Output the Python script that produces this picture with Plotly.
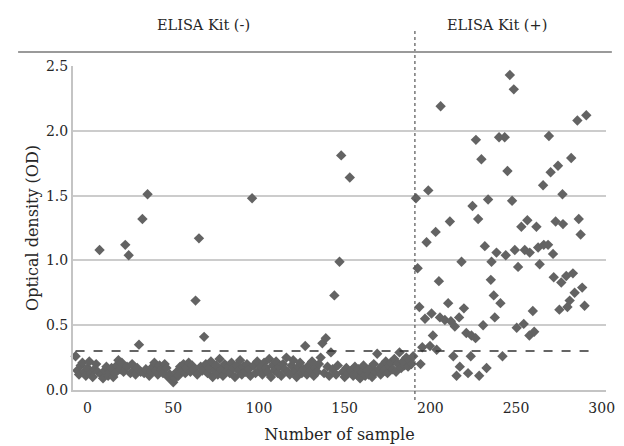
import plotly.graph_objects as go

# ELISA Kit (-) group: sample numbers and optical density
neg_start = -7
neg_od = [
    0.26, 0.15, 0.12, 0.19, 0.21, 0.14, 0.11, 0.17, 0.22, 0.13,
    0.10, 0.16, 0.20, 0.14, 1.08, 0.12, 0.09, 0.15, 0.18, 0.11,
    0.14, 0.17, 0.10, 0.13, 0.19, 0.23, 0.16, 0.21, 0.14, 1.12,
    0.18, 1.04, 0.13, 0.20, 0.15, 0.12, 0.17, 0.35, 0.14, 1.32,
    0.13, 0.16, 1.51, 0.11, 0.14, 0.18, 0.21, 0.15, 0.12, 0.19,
    0.16, 0.13, 0.20, 0.17, 0.10, 0.12, 0.08, 0.06, 0.09, 0.14,
    0.11, 0.18, 0.15, 0.20, 0.13, 0.17, 0.21, 0.14, 0.19, 0.16,
    0.69, 0.12, 1.17, 0.18, 0.15, 0.41, 0.20, 0.13, 0.17, 0.22,
    0.10, 0.15, 0.19, 0.12, 0.24, 0.16, 0.11, 0.20, 0.14, 0.18,
    0.13, 0.21, 0.17, 0.10, 0.19, 0.15, 0.23, 0.12, 0.18, 0.14,
    0.20, 0.16, 0.11, 1.48, 0.19, 0.13, 0.22, 0.15, 0.18, 0.12,
    0.21, 0.17, 0.14, 0.24, 0.10, 0.19, 0.15, 0.22, 0.13, 0.18,
    0.11, 0.20, 0.16, 0.25, 0.14, 0.12, 0.19, 0.23, 0.15, 0.10,
    0.18, 0.21, 0.13, 0.16, 0.34, 0.12, 0.19, 0.15, 0.22, 0.11,
    0.17, 0.14, 0.20, 0.25, 0.36, 0.13, 0.40, 0.18, 0.11, 0.29,
    0.16, 0.73, 0.12, 0.19, 0.99, 1.81, 0.14, 0.10, 0.17, 0.13,
    1.64, 0.15, 0.11, 0.18, 0.12, 0.16, 0.09, 0.14, 0.19, 0.11,
    0.15, 0.12, 0.17, 0.10, 0.20, 0.14, 0.28, 0.16, 0.12, 0.19,
    0.15, 0.22, 0.13, 0.18, 0.21, 0.16, 0.24, 0.14, 0.20, 0.29,
    0.17, 0.22, 0.19, 0.25, 0.18, 0.23, 0.20, 0.26,
]
neg_sample = list(range(neg_start, neg_start + len(neg_od)))

# ELISA Kit (+) group
pos_sample = [
    191.6, 192.6, 193.6, 194.3, 195.3, 196.9, 197.8, 198.8, 199.8, 200.7,
    201.5, 203.1, 203.7, 205.0, 205.6, 206.0, 208.5, 210.4, 211.4, 212.0,
    213.4, 214.3, 215.3, 216.8, 217.2, 218.2, 219.6, 221.0, 222.0, 223.6,
    224.0, 224.6, 226.4, 226.6, 227.9, 228.5, 229.8, 230.8, 231.8, 232.8,
    233.7, 235.3, 235.7, 237.0, 237.6, 238.6, 240.1, 240.9, 242.1, 243.4,
    244.0, 245.0, 246.4, 247.7, 248.7, 249.3, 250.4, 251.2, 253.1, 254.5,
    255.1, 256.6, 257.8, 258.0, 259.8, 260.6, 261.9, 262.9, 263.8, 265.8,
    266.2, 268.7, 269.2, 270.2, 271.6, 272.0, 273.1, 274.5, 275.3, 276.4,
    277.1, 277.4, 279.3, 280.0, 281.3, 282.2, 283.2, 284.2, 285.8, 286.6,
    287.7, 288.6, 290.0, 291.0,
]
pos_od = [
    1.48, 0.94, 0.64, 0.20, 0.33, 0.55, 1.14, 1.54, 0.34, 0.59,
    0.42, 1.22, 0.31, 0.84, 0.56, 2.19, 0.54, 0.67, 1.30, 0.53,
    0.26, 0.49, 0.11, 0.56, 0.18, 0.99, 0.63, 0.44, 0.13, 0.26,
    0.42, 1.42, 0.40, 1.93, 1.32, 0.11, 1.78, 0.50, 1.11, 0.17,
    1.47, 0.85, 0.99, 0.73, 0.56, 1.06, 1.95, 0.67, 0.26, 1.95,
    1.04, 1.69, 2.43, 1.46, 2.32, 1.08, 0.48, 0.95, 1.26, 0.51,
    1.08, 1.31, 0.42, 1.06, 0.61, 0.45, 1.26, 1.10, 0.97, 1.58,
    1.12, 1.12, 1.96, 1.68, 1.05, 0.87, 1.30, 1.73, 0.62, 0.83,
    1.51, 1.28, 0.88, 0.64, 0.69, 1.79, 0.90, 0.75, 2.08, 1.32,
    1.20, 0.79, 0.65, 2.12,
]

cutoff = 0.3
divider = 191
group_labels = ["ELISA Kit (-)", "ELISA Kit (+)"]
x_ticks = [0, 50, 100, 150, 200, 250, 300]
y_ticks = [0.0, 0.5, 1.0, 1.5, 2.0, 2.5]

FONT = "DejaVu Serif"
MARK = "#636363"
TXT = "#262626"

fig = go.Figure()
fig.add_trace(go.Scatter(
    x=neg_sample + pos_sample, y=neg_od + pos_od, mode="markers",
    marker=dict(symbol="diamond", size=8, color=MARK, line=dict(width=0)),
    showlegend=False, cliponaxis=False,
))

# cut-off dashed line
fig.add_shape(type="line", xref="x", yref="y", x0=-7, x1=296, y0=cutoff, y1=cutoff,
              line=dict(color="#333333", width=1.5, dash="dash"))
# group divider (dotted)
fig.add_shape(type="line", xref="x", yref="paper", x0=divider, x1=divider, y0=-0.031, y1=1.111,
              line=dict(color="#555555", width=1.2, dash="dot"))
# header rule
fig.add_shape(type="line", xref="paper", yref="paper", x0=-0.103, x1=1.011, y0=1.043, y1=1.043,
              line=dict(color="#9a9a9a", width=2))

fig.add_annotation(text=group_labels[0], xref="x", yref="paper", x=67.6, y=1.127,
                   yanchor="middle", showarrow=False, font=dict(family=FONT, size=14.5, color=TXT))
fig.add_annotation(text=group_labels[1], xref="x", yref="paper", x=238.8, y=1.127,
                   yanchor="middle", showarrow=False, font=dict(family=FONT, size=14.5, color=TXT))

# the page body adds an 8 px offset, so the figure is 8 px smaller than the window
fig.update_layout(
    width=616, height=438,
    margin=dict(l=65, r=18, t=58, b=56),
    paper_bgcolor="white", plot_bgcolor="white",
    font=dict(family=FONT, size=14, color=TXT),
    xaxis=dict(range=[-8.5, 302.5], tickvals=x_ticks, showgrid=False, zeroline=False,
               showline=True, linecolor="#c4c4c4", linewidth=2, ticks="", automargin=False,
               ticklabelstandoff=4,
               title=dict(text="Number of sample", standoff=14, font=dict(size=16))),
    yaxis=dict(range=[0, 2.5], tickvals=y_ticks, tickformat=".1f", showgrid=True,
               gridcolor="#cccccc", gridwidth=1.6, zeroline=False, automargin=False,
               showline=True, linecolor="#c4c4c4", linewidth=2, ticks="",
               title=dict(text="Optical density (OD)", standoff=3, font=dict(size=16))),
)

fig.write_html("out.html")
